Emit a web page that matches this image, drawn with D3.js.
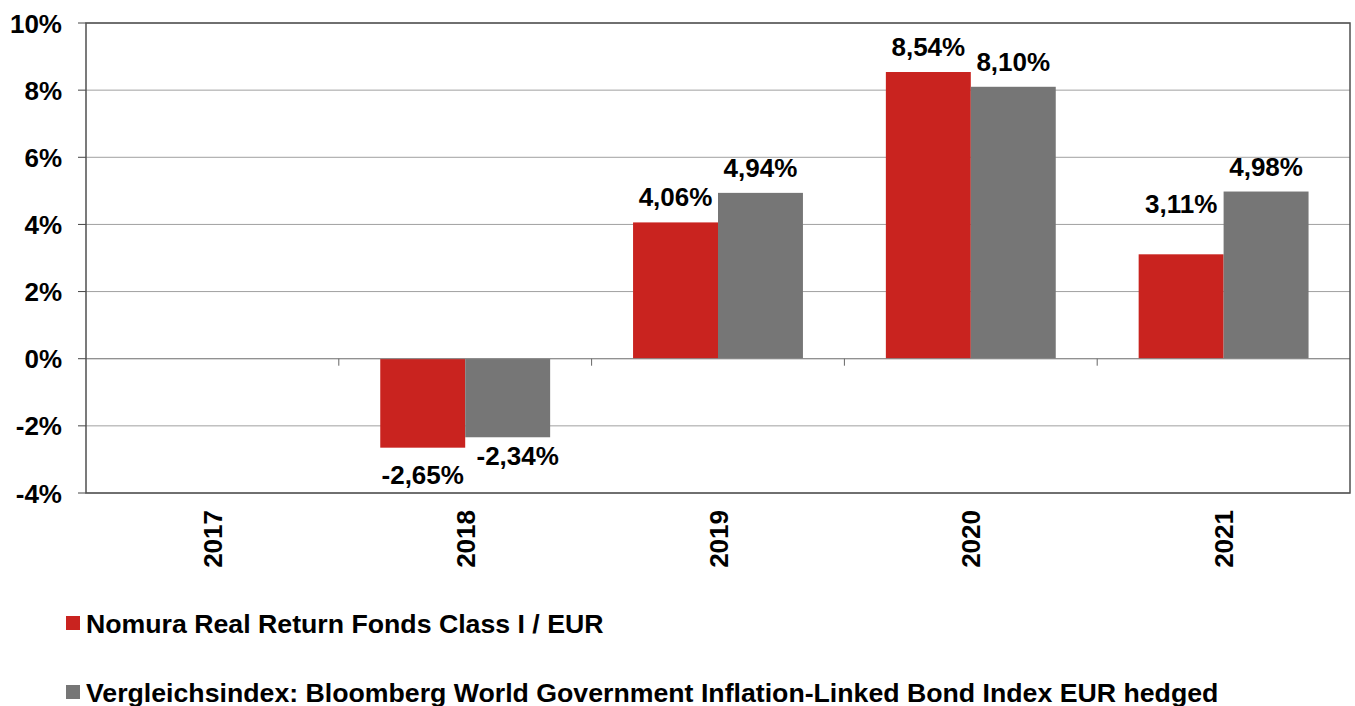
<html>
<head>
<meta charset="utf-8">
<script src="https://d3js.org/d3.v7.min.js"></script>
<style>
body { margin: 0; background: #fff; font-family: "Liberation Sans", Arial, sans-serif; }
text { font-weight: bold; fill: #000; font-size: 26px; }
</style>
</head>
<body>
<div id="chart"></div>
<script>

var years = ["2017", "2018", "2019", "2020", "2021"];
var fundValues = [null, -2.65, 4.06, 8.54, 3.11];
var indexValues = [null, -2.34, 4.94, 8.10, 4.98];
var yTicks = [-4, -2, 0, 2, 4, 6, 8, 10];
var seriesNames = ["Nomura Real Return Fonds Class I / EUR",
  "Vergleichsindex: Bloomberg World Government Inflation-Linked Bond Index EUR hedged"];
var seriesColors = ["#c9231f", "#767676"];

var width = 1355, height = 706;
var plotLeft = 86, plotRight = 1350, plotTop = 23, plotBottom = 493;

var svg = d3.select("#chart").append("svg")
.attr("width", width).attr("height", height);

var yScale = d3.scaleLinear().domain([-4, 10]).range([plotBottom, plotTop]);
var xScale = d3.scaleBand().domain(years).range([plotLeft, plotRight]);
var sScale = d3.scaleBand().domain([0, 1]).range([0, xScale.bandwidth()])
.paddingInner(0).paddingOuter(0.488);

// german decimal comma, plain hyphen for the minus
var fmt = function (v) {
  return d3.format(".2f")(v).replace(".", ",").replace("\u2212", "-") + "%";
};

// gridlines
svg.selectAll("line.grid").data(yTicks).enter().append("line")
.attr("x1", plotLeft).attr("x2", plotRight)
.attr("y1", function (d) { return yScale(d); })
.attr("y2", function (d) { return yScale(d); })
.style("stroke", "#a0a0a0").style("stroke-width", 1);

// y ticks + labels
svg.selectAll("line.ytick").data(yTicks).enter().append("line")
.attr("x1", plotLeft - 8).attr("x2", plotLeft)
.attr("y1", function (d) { return yScale(d); })
.attr("y2", function (d) { return yScale(d); })
.style("stroke", "#444");

svg.selectAll("text.ylab").data(yTicks).enter().append("text")
.attr("x", 62).attr("y", function (d) { return yScale(d) + 9.5; })
.attr("text-anchor", "end")
.text(function (d) { return d + "%"; });

// bars
var series = [fundValues, indexValues];
series.forEach(function (vals, si) {
  var data = years.map(function (y, i) { return { year: y, v: vals[i] }; })
  .filter(function (d) { return d.v !== null; });

  svg.selectAll("rect.s" + si).data(data).enter().append("rect")
  .attr("x", function (d) { return xScale(d.year) + sScale(si); })
  .attr("width", sScale.bandwidth())
  .attr("y", function (d) { return yScale(Math.max(0, d.v)); })
  .attr("height", function (d) { return Math.abs(yScale(d.v) - yScale(0)); })
  .style("fill", seriesColors[si]);
});

// zero line + category ticks
svg.append("line")
.attr("x1", plotLeft).attr("x2", plotRight)
.attr("y1", yScale(0)).attr("y2", yScale(0))
.style("stroke", "#888");

svg.selectAll("line.xtick").data(years.slice(1)).enter().append("line")
.attr("x1", function (d) { return xScale(d); })
.attr("x2", function (d) { return xScale(d); })
.attr("y1", yScale(0)).attr("y2", yScale(0) + 7)
.style("stroke", "#666");

// frame
svg.append("rect")
.attr("x", plotLeft).attr("y", plotTop)
.attr("width", plotRight - plotLeft).attr("height", plotBottom - plotTop)
.style("fill", "none").style("stroke", "#505050").style("stroke-width", 1.5);

// value labels; a few were nudged by hand in the original ([dx, dy])
var nudge = { "0-2018": [0, 8], "1-2018": [10, 0], "0-2021": [0, -25] };
series.forEach(function (vals, si) {
  var data = years.map(function (y, i) { return { year: y, v: vals[i] }; })
  .filter(function (d) { return d.v !== null; });

  var nd = function (d) { return nudge[si + "-" + d.year] || [0, 0]; };

  svg.selectAll("text.v" + si).data(data).enter().append("text")
  .attr("x", function (d) {
    return xScale(d.year) + sScale(si) + sScale.bandwidth() / 2 + nd(d)[0];
  })
  .attr("y", function (d) {
    var y = d.v < 0 ? yScale(d.v) + 28 : yScale(d.v) - 16;
    return y + nd(d)[1];
  })
  .attr("text-anchor", "middle")
  .text(function (d) { return fmt(d.v); });
});

// year labels, rotated
svg.selectAll("text.year").data(years).enter().append("text")
.attr("transform", function (d) {
  return "translate(" + (xScale(d) + xScale.bandwidth() / 2 + 9.5) + ",510) rotate(-90)";
})
.attr("text-anchor", "end")
.text(function (d) { return d; });

// legend
var legend = svg.selectAll("g.legend").data(seriesNames).enter().append("g")
.attr("transform", function (d, i) { return "translate(66," + (616 + i * 69) + ")"; });

legend.append("rect")
.attr("width", 14).attr("height", 14)
.style("fill", function (d, i) { return seriesColors[i]; });

legend.append("text")
.attr("x", 20).attr("y", 16.5)
.style("font-size", "26.7px")
.text(function (d) { return d; });

</script>
</body>
</html>
